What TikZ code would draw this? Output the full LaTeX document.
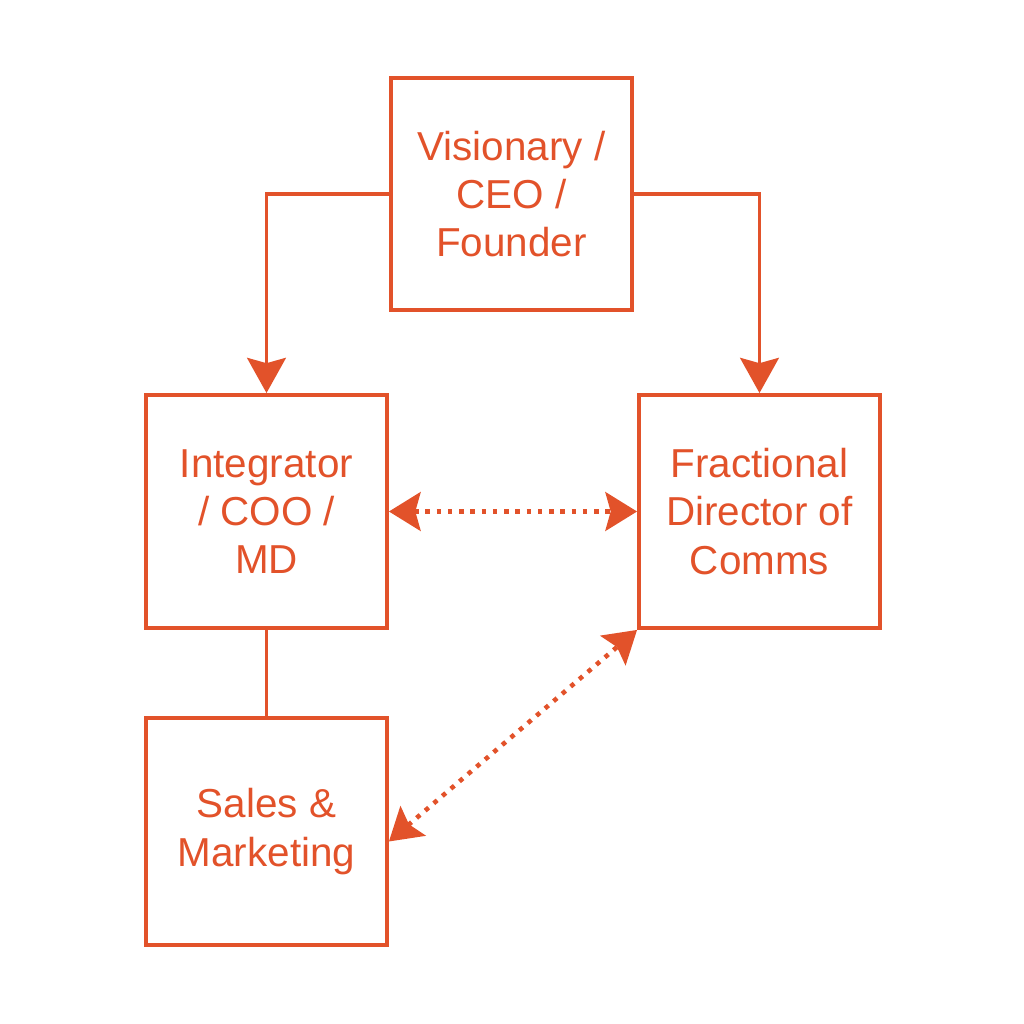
\documentclass[tikz,border=0pt]{standalone}
\usepackage{fontspec}
\setmainfont{Liberation Sans}
\definecolor{roleOrange}{RGB}{226, 82, 42}
\usepackage{tikz}
\usetikzlibrary{arrows.meta}

\begin{document}
\begin{tikzpicture}[
    rolebox/.style={draw=roleOrange,line width=1.1pt,minimum width=2.41cm,minimum height=2.32cm,
        inner sep=0pt,align=center,text=roleOrange,font=\fontsize{11.5}{13.7}\selectfont},
    reports/.style={draw=roleOrange,line width=1.1pt,-{Stealth[length=10pt,width=11pt,inset=1.5pt]}},
    peerlink/.style={draw=roleOrange,line width=1.3pt,dash pattern=on 1.3pt off 1.9pt,
        {Stealth[length=9pt,width=11pt,inset=1.5pt]}-{Stealth[length=9pt,width=11pt,inset=1.5pt]}}
]
    \useasboundingbox (0,0) rectangle (10.24,10.24);

    % roles
    \node[rolebox] (ceo) at (5.115,8.30) {Visionary /\\CEO /\\Founder};
    \node[rolebox,minimum height=2.33cm] (coo) at (2.665,5.125) {Integrator\\/ COO /\\MD};
    \node[rolebox,minimum height=2.33cm] (comms) at (7.595,5.125) {Fractional\\Director of\\Comms};
    \node[rolebox,minimum height=2.27cm] (sales) at (2.665,1.925) {Sales \&\\Marketing};

    % reporting lines
    \draw[reports] (ceo.west) -| (coo.north);
    \draw[reports] (ceo.east) -| (comms.north);
    \draw[draw=roleOrange,line width=1.1pt] (coo.south) -- (sales.north);

    % peer links
    \draw[peerlink] (coo.east) -- (comms.west);
    \draw[peerlink] ([yshift=-1mm]sales.east) -- (comms.south west);
\end{tikzpicture}
\end{document}
